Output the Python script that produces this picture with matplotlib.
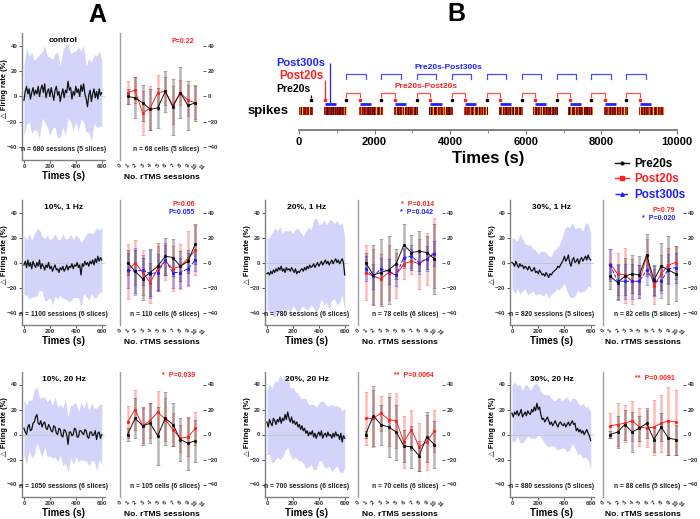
import numpy as np
import matplotlib
matplotlib.use('Agg')
import matplotlib.pyplot as plt
from matplotlib.colors import LinearSegmentedColormap, to_rgba
from matplotlib.lines import Line2D

plt.rcParams['font.family'] = ['Liberation Sans', 'DejaVu Sans']
plt.rcParams['font.weight'] = 'bold'

RED = '#ff2020'
BLUE = '#2020ff'
BAND = '#d4d4fa'

# ---- time traces (mean, every 10 s) and SD (every 20 s) ----
ctrl_trace = [-3, 4, 8, 2, 6, -2, 3, 7, 1, 5, 2, 8, 0, 6, 9, 3, 10, -1, 4, 6,
              0, 7, 2, -3, 5, 8, 1, 4, -4, 2, 6, -1, 5, 3, 12, 5, 7, -2, 4, 1,
              8, 3, 6, 0, 9, 4, 10, 2, -2, -8, 1, 5, -4, 2, 6, -1, 4, -2, 6, 1, 3]
ctrl_sd = [28, 30, 26, 32, 27, 29, 33, 26, 30, 28, 31, 27, 29, 34, 28, 30,
           36, 29, 27, 31, 28, 33, 27, 30, 26, 29, 31, 27, 28, 30, 26]

r10_1hz_trace = [-2, 1, -4, 2, -3, 0, -5, 1, -2, -4, 0, -3, 2, -5, -1, -3, -6, -2, -4, 0,
                 -5, -3, -7, -4, -2, -6, -5, -8, -4, -6, -3, -7, -5, -2, -6, -3, -4, -1, -5, -2,
                 -3, 0, -4, -2, -10, -1, -3, 1, -2, 0, -3, 1, -1, 2, -2, 3, 0, 5, 1, 4, 2]
r10_1hz_sd = [24, 22, 26, 23, 25, 27, 24, 22, 25, 26, 23, 27, 25, 24, 22, 26,
              24, 25, 27, 23, 25, 24, 26, 22, 25, 27, 24, 26, 28, 25, 26]

r20_1hz_trace = [-9, -8, -10, -7, -9, -6, -8, -5, -7, -4, -6, -3, -7, -5, -8, -4, -6, -5, -7, -4,
                 -6, -8, -5, -9, -7, -8, -6, -5, -7, -4, -6, -3, -5, -2, -4, -3, -1, -4, -2, 0,
                 -3, -1, 1, -2, 0, 2, -1, 1, -2, 0, 2, -1, 1, 3, 0, 2, -1, 1, 3, 0, -10]
r20_1hz_sd = [28, 30, 33, 36, 32, 35, 30, 34, 31, 33, 29, 32, 34, 30, 28, 31,
              33, 30, 35, 38, 33, 30, 34, 31, 36, 32, 30, 34, 31, 29, 30]

r30_1hz_trace = [0, -1, -3, 1, -2, -4, -1, -3, -2, -5, -3, -4, -6, -3, -5, -7, -6, -4, -8, -7,
                 -9, -6, -8, -10, -9, -11, -8, -10, -12, -9, -10, -8, -7, -6, -5, -3, -4, -2, 0, 2,
                 5, 1, 3, 6, 0, -3, 2, 4, 0, 1, 3, -1, 2, 4, 1, 3, 5, 2, 6, 3, 2]
r30_1hz_sd = [20, 22, 19, 24, 21, 18, 20, 19, 17, 18, 16, 17, 18, 16, 17, 15,
              17, 16, 18, 19, 22, 26, 28, 30, 27, 25, 26, 24, 27, 25, 22]

r10_20hz_trace = [5, 2, 0, 6, 8, 3, 4, 9, 10, 14, 16, 9, 8, 11, 6, 9, 10, 5, 4, 8,
                  6, 3, 2, 7, 6, 1, 0, 5, 4, -1, -2, 4, 3, 0, -8, 2, 2, -1, 0, 5,
                  4, -2, -2, 3, 3, 1, 0, 4, 3, -2, -3, 2, 2, -1, 0, 3, -4, 1, 2, -3, 0]
r10_20hz_sd = [22, 24, 20, 23, 26, 22, 21, 24, 20, 22, 23, 21, 24, 22, 20, 23,
               26, 22, 21, 24, 22, 20, 23, 21, 24, 22, 23, 21, 25, 22, 24]

r20_20hz_trace = [10, 6, 12, 9, 7, 13, 11, 8, 12, 10, 14, 9, 13, 11, 16, 12, 18, 13, 10, 14,
                  9, 11, 8, 10, 6, 8, 4, 7, 3, 5, 1, 3, -1, 2, 0, 3, -2, 1, -3, 0,
                  2, -1, 3, -3, 0, 1, -2, 2, -1, 0, -3, 1, -2, 2, -1, 0, -4, 1, -6, -1, -3]
r20_20hz_sd = [26, 28, 30, 32, 30, 34, 31, 29, 28, 27, 29, 26, 27, 25, 26, 28,
               25, 24, 26, 25, 23, 24, 26, 25, 24, 27, 25, 24, 26, 25, 24]

r30_20hz_trace = [17, 14, 18, 16, 19, 15, 17, 20, 14, 16, 18, 15, 19, 17, 16, 20, 18, 22, 19, 25,
                  20, 22, 16, 12, 13, 10, 12, 14, 11, 8, 10, 7, 9, 11, 8, 6, 9, 10, 8, 7,
                  9, 6, 8, 10, 7, 9, 11, 8, 9, 3, 5, 2, 4, 1, 3, 0, 2, 4, 1, -1, -5]
r30_20hz_sd = [22, 24, 20, 23, 21, 22, 20, 19, 21, 22, 20, 18, 19, 20, 21, 19,
               18, 20, 21, 19, 20, 22, 19, 18, 20, 21, 19, 22, 20, 21, 23]

# ---- per-session means and errors ----
sessions = np.arange(1, 11)

ctrl_pre = [0, -1, -5, -10, -9, 4, -8, 3, -7, -5]
ctrl_pre_err = [6, 16, 14, 16, 16, 16, 22, 20, 19, 14]
ctrl_post20 = [3, 5, -13, -9, 3, 4, -7, 3, -3, -5]
ctrl_post20_err = [9, 10, 17, 17, 14, 11, 15, 10, 12, 13]

r10_1hz_pre = [0, -7, -13, -8, -3, 5, 4, -3, 1, 15]
r10_1hz_pre_err = [10, 17, 17, 19, 19, 15, 15, 12, 9, 16]
r10_1hz_post20 = [-7, 0, -8, -16, -5, 1, -5, -3, 3, 10]
r10_1hz_post20_err = [22, 18, 18, 16, 18, 15, 18, 18, 22, 20]
r10_1hz_post300 = [-6, -7, -6, -9, -8, 2, -8, -8, -5, 2]
r10_1hz_post300_err = [14, 19, 12, 19, 15, 12, 12, 12, 13, 9]

r20_1hz_pre = [0, -10, -8, -6, -1, 14, 8, 9, 8, 3]
r20_1hz_pre_err = [8, 24, 27, 27, 12, 17, 14, 16, 13, 28]
r20_1hz_post20 = [-8, -11, -13, -8, -10, -1, 1, -1, 3, 8]
r20_1hz_post20_err = [22, 22, 20, 22, 18, 12, 10, 20, 21, 28]
r20_1hz_post300 = [-5, -11, -5, -7, -10, 4, 5, 0, 3, 7]
r20_1hz_post300_err = [10, 10, 9, 10, 9, 8, 9, 9, 10, 10]

r30_1hz_pre = [-11, -16, -11, -9, -10, 6, -14, -3, -6, -9]
r30_1hz_pre_err = [10, 14, 15, 15, 15, 17, 12, 19, 27, 22]
r30_1hz_post20 = [-1, -9, -10, -15, -15, 5, -19, -9, -2, 0]
r30_1hz_post20_err = [12, 17, 22, 18, 13, 14, 14, 15, 14, 13]
r30_1hz_post300 = [-2, -15, -15, -15, -15, -6, -15, -15, -5, -4]
r30_1hz_post300_err = [13, 14, 14, 14, 13, 12, 12, 13, 12, 12]

r10_20hz_pre = [0, 13, 7, 9, -1, 13, 8, -4, -7, -5]
r10_20hz_pre_err = [5, 16, 15, 16, 23, 21, 17, 17, 21, 17]
r10_20hz_post20 = [10, 20, 7, 11, 18, 12, 4, -3, -2, 5]
r10_20hz_post20_err = [13, 16, 14, 14, 17, 17, 13, 11, 15, 13]

r20_20hz_pre = [0, 15, 8, 6, 2, -9, -10, -17, -2, -8]
r20_20hz_pre_err = [3, 24, 16, 24, 22, 13, 17, 12, 20, 19]
r20_20hz_post20 = [13, 13, 17, 12, 11, -6, 4, -10, -6, 3]
r20_20hz_post20_err = [21, 23, 14, 21, 22, 21, 16, 19, 22, 17]

r30_20hz_pre = [0, 2, 8, 2, 5, 9, -4, 6, -3, -4]
r30_20hz_pre_err = [3, 13, 12, 16, 10, 12, 10, 11, 13, 12]
r30_20hz_post20 = [7, 8, 9, 11, 6, 5, 6, 9, 11, 10]
r30_20hz_post20_err = [10, 17, 15, 16, 15, 15, 22, 23, 27, 26]

titles = ['control', '10%, 1 Hz', '20%, 1 Hz', '30%, 1 Hz',
          '10%, 20 Hz', '20%, 20 Hz', '30%, 20 Hz']
n_sessions = ['n = 680 sessions (5 slices)', 'n = 1100 sessions (6 slices)',
              'n = 780 sessions (6 slices)', 'n = 820 sessions (5 slices)',
              'n = 1050 sessions (6 slices)', 'n = 700 sessions (6 slices)',
              'n = 880 sessions (5 slices)']
n_cells = ['n = 68 cells (5 slices)', 'n = 110 cells (6 slices)',
           'n = 78 cells (6 slices)', 'n = 82 cells (5 slices)',
           'n = 105 cells (6 slices)', 'n = 70 cells (6 slices)',
           'n = 88 cells (5 slices)']
p_red = ['P=0.22', 'P=0.06', '*  P=0.014', 'P=0.79', '*  P=0.039', '**  P=0.0064', '**  P=0.0091']
p_blue = [None, 'P=0.055', '*  P=0.042', '*  P=0.020', None, None, None]

# ---- panel B timeline (s) ----
rec_start = [0, 654, 1581, 2509, 3436, 4364, 5283, 6201, 7129, 8057, 8984]
rec_end = [371, 1272, 2226, 3154, 4081, 5009, 5936, 6846, 7774, 8701, 9647]
pre20_t = [327, 1237, 2182, 3110, 4037, 4974, 5901, 6820, 7730, 8657]
post20_t = [680, 1608, 2535, 3472, 4390, 5318, 6246, 7173, 8092, 9011]
spike_pattern = [0.35, 0.5, 0.15, 0.7, 0.4, 0.05, 0.55, 0.9, 0.3, 0.45, 0.2, 0.4, 0.8,
                 0.3, 0.1, 0.5, 0.6, 0.25, 0.4, 0.75, 0.3, 0.5, 0.95, 0.2, 0.4, 0.6,
                 0.3, 0.1, 0.5, 0.4]

fig = plt.figure(figsize=(7, 5.19), dpi=100)


def px_axes(x0, y0, x1, y1):
    return fig.add_axes([x0 / 700, 1 - y1 / 519, (x1 - x0) / 700, (y1 - y0) / 519])


def style_ticks(ax):
    ax.tick_params(labelsize=4.4, labelcolor='#333333', color='#555555', length=2, width=0.7, pad=1.2)
    for lab in ax.get_xticklabels() + ax.get_yticklabels():
        lab.set_fontweight('bold')


def trace_panel(ax, trace, sd, title, nlab):
    tr = np.array(trace, float)
    t = np.linspace(0, 600, len(tr))
    sd = np.array(sd, float)
    ax.fill_between(t[::2], tr[::2] - sd, tr[::2] + sd, color=BAND, lw=0, zorder=1)
    ax.axhline(0, color='#c0c0c0', lw=0.5, zorder=2)
    ax.plot(t, tr, color='#111111', lw=0.9, zorder=3)
    ax.set_xlim(-15, 625)
    ax.set_ylim(-50, 50)
    ax.set_xticks([0, 200, 400, 600])
    ax.set_yticks([-40, -20, 0, 20, 40])
    for s in ['top', 'right']:
        ax.spines[s].set_visible(False)
    for s in ['left', 'bottom']:
        ax.spines[s].set_color('#808080')
        ax.spines[s].set_linewidth(1.0)
    style_ticks(ax)
    ax.set_xlabel('Times (s)', fontsize=7, fontweight='bold', labelpad=1)
    ax.set_ylabel('△ Firing rate (%)', fontsize=5.4, fontweight='bold')
    ax.yaxis.set_label_coords(-0.165, 0.56)
    ax.text(0.5, 0.94, title, transform=ax.transAxes, ha='center', va='center',
            fontsize=6, fontweight='bold')
    ax.text(0.5, 0.08, nlab, transform=ax.transAxes, ha='center', va='center',
            fontsize=4.9, fontweight='bold', color='#222222')


def session_panel(ax, series, nlab, pr, pb, ptop):
    for y, e, c, ls in series:
        ax.errorbar(sessions, y, yerr=e, color=c, ls=ls, lw=0.7, marker='o', ms=1.3,
                    ecolor=to_rgba(c, 0.3), elinewidth=1.8, capsize=1.2, capthick=0.7, zorder=3)
    ax.set_xlim(0, 11)
    ax.set_ylim(-50, 50)
    ax.set_xticks(range(12))
    ax.set_yticks([-40, -20, 0, 20, 40])
    ax.yaxis.tick_right()
    for s in ['top', 'right', 'bottom']:
        ax.spines[s].set_visible(False)
    ax.spines['left'].set_color('#a0a0a0')
    ax.spines['left'].set_linewidth(1.0)
    style_ticks(ax)
    ax.tick_params(axis='x', length=0, pad=2)
    for lab in ax.get_xticklabels():
        lab.set_rotation(45)
    ax.set_xlabel('No. rTMS sessions', fontsize=6, fontweight='bold', labelpad=2)
    ax.text(0.96, 0.08, nlab, transform=ax.transAxes, ha='right', va='center',
            fontsize=4.8, fontweight='bold', color='#222222')
    ax.text(0.9, ptop, pr, transform=ax.transAxes, ha='right', va='center',
            fontsize=5, fontweight='bold', color=RED)
    if pb:
        ax.text(0.9, ptop - 0.065, pb, transform=ax.transAxes, ha='right', va='center',
                fontsize=5, fontweight='bold', color=BLUE)


COLS = [(22, 105, 120, 203), (265, 348, 358, 442), (510, 594, 603, 683)]
ROWS = [(33, 160), (200, 325), (372, 497)]

traces = [ctrl_trace, r10_1hz_trace, r20_1hz_trace, r30_1hz_trace,
          r10_20hz_trace, r20_20hz_trace, r30_20hz_trace]
sds = [ctrl_sd, r10_1hz_sd, r20_1hz_sd, r30_1hz_sd, r10_20hz_sd, r20_20hz_sd, r30_20hz_sd]
series = [
    [(ctrl_post20, ctrl_post20_err, RED, '-'), (ctrl_pre, ctrl_pre_err, '#111111', '-')],
    [(r10_1hz_post20, r10_1hz_post20_err, RED, '-'), (r10_1hz_post300, r10_1hz_post300_err, BLUE, '--'),
     (r10_1hz_pre, r10_1hz_pre_err, '#111111', '-')],
    [(r20_1hz_post20, r20_1hz_post20_err, RED, '-'), (r20_1hz_post300, r20_1hz_post300_err, BLUE, '--'),
     (r20_1hz_pre, r20_1hz_pre_err, '#111111', '-')],
    [(r30_1hz_post20, r30_1hz_post20_err, RED, '-'), (r30_1hz_post300, r30_1hz_post300_err, BLUE, '--'),
     (r30_1hz_pre, r30_1hz_pre_err, '#111111', '-')],
    [(r10_20hz_post20, r10_20hz_post20_err, RED, '-'), (r10_20hz_pre, r10_20hz_pre_err, '#111111', '-')],
    [(r20_20hz_post20, r20_20hz_post20_err, RED, '-'), (r20_20hz_pre, r20_20hz_pre_err, '#111111', '-')],
    [(r30_20hz_post20, r30_20hz_post20_err, RED, '-'), (r30_20hz_pre, r30_20hz_pre_err, '#111111', '-')],
]
positions = [(0, 0), (1, 0), (1, 1), (1, 2), (2, 0), (2, 1), (2, 2)]
ptops = [0.93, 0.965, 0.965, 0.92, 0.975, 0.975, 0.95]

for i, (r, c) in enumerate(positions):
    y0, y1 = ROWS[r]
    xa0, xa1, xb0, xb1 = COLS[c]
    ax1 = px_axes(xa0, y0, xa1, y1)
    trace_panel(ax1, traces[i], sds[i], titles[i], n_sessions[i])
    ax2 = px_axes(xb0, y0, xb1, y1)
    session_panel(ax2, series[i], n_cells[i], p_red[i], p_blue[i], ptops[i])

# ---- panel B: protocol diagram ----
axB = px_axes(299, 50, 677, 130)
axB.set_xlim(0, 10000)
axB.set_ylim(0, 80)
spike_cmap = LinearSegmentedColormap.from_list(
    'spk', ['#1a0000', '#6b0000', '#a01010', '#c83c14', '#f0a000', '#ffe040'])
pat = np.array(spike_pattern)
for k, (s, e) in enumerate(zip(rec_start, rec_end)):
    row = np.roll(pat, k * 7)
    axB.pcolormesh(np.linspace(s, e, len(row) + 1), [15, 23], row[None, :],
                   cmap=spike_cmap, vmin=0, vmax=1)
post20_arr = np.array(post20_t)
axB.plot(pre20_t, [30] * len(pre20_t), 's', color='black', ms=1.4)
axB.plot(post20_t, [30] * len(post20_t), 's', color=RED, ms=1.4)
axB.hlines([26] * len(post20_arr), post20_arr, post20_arr + 300, color=BLUE, lw=2.0)
for p, q in zip(pre20_t[1:], post20_t[1:]):
    axB.plot([p, p, q, q], [33, 37, 37, 33], color='#ff5050', lw=0.9)
    axB.plot([p, p, q + 160, q + 160], [51, 56, 56, 51], color='#4a4aff', lw=0.9)
axB.vlines(pre20_t[0], 32, 35, color='black', lw=0.9)
axB.vlines(post20_t[0], 30, 50, color=RED, lw=0.9)
axB.vlines(post20_t[0] + 150, 26, 67, color=BLUE, lw=0.9)
axB.text(291, 41, 'Pre20s', ha='right', va='center', fontsize=7.5, fontweight='bold', color='black')
axB.text(636, 54, 'Post20s', ha='right', va='center', fontsize=8.3, fontweight='bold', color=RED)
axB.text(690, 67, 'Post300s', ha='right', va='center', fontsize=8, fontweight='bold', color=BLUE)
axB.text(3950, 63, 'Pre20s-Post300s', ha='center', va='center', fontsize=6, fontweight='bold', color=BLUE)
axB.text(3365, 44, 'Pre20s-Post20s', ha='center', va='center', fontsize=6, fontweight='bold', color=RED)
axB.text(-290, 19, 'spikes', ha='right', va='center', fontsize=9.5, fontweight='bold')
for s in ['top', 'right', 'left']:
    axB.spines[s].set_visible(False)
axB.spines['bottom'].set_color('#777777')
axB.spines['bottom'].set_linewidth(1.3)
axB.set_yticks([])
axB.set_xticks(range(0, 10001, 2000))
axB.set_xticks(range(0, 10001, 1000), minor=True)
axB.tick_params(labelsize=8, length=3, color='#777777', pad=2)
axB.tick_params(which='minor', length=2, color='#777777')
for lab in axB.get_xticklabels():
    lab.set_fontweight('bold')
axB.set_xlabel('Times (s)', fontsize=12, fontweight='bold', labelpad=3)

# ---- legend ----
handles = [Line2D([], [], color='#111111', marker='o', ms=2, lw=1),
           Line2D([], [], color=RED, marker='s', ms=2.5, lw=1),
           Line2D([], [], color=BLUE, marker='^', ms=2.5, lw=1, ls='--')]
leg = fig.legend(handles, ['Pre20s', 'Post20s', 'Post300s'], loc='upper left',
                 bbox_to_anchor=(609 / 700, 1 - 152 / 519), frameon=False,
                 prop={'size': 8.4, 'weight': 'bold'}, handlelength=1.2,
                 labelspacing=0.3, handletextpad=0.5, borderpad=0)
for txt, c in zip(leg.get_texts(), ['black', RED, BLUE]):
    txt.set_color(c)

fig.text(97 / 700, 1 - 15 / 519, 'A', fontsize=18, fontweight='heavy', ha='center', va='center')
fig.text(456 / 700, 1 - 14 / 519, 'B', fontsize=18, fontweight='heavy', ha='center', va='center')

fig.savefig('out.png', dpi=100)
